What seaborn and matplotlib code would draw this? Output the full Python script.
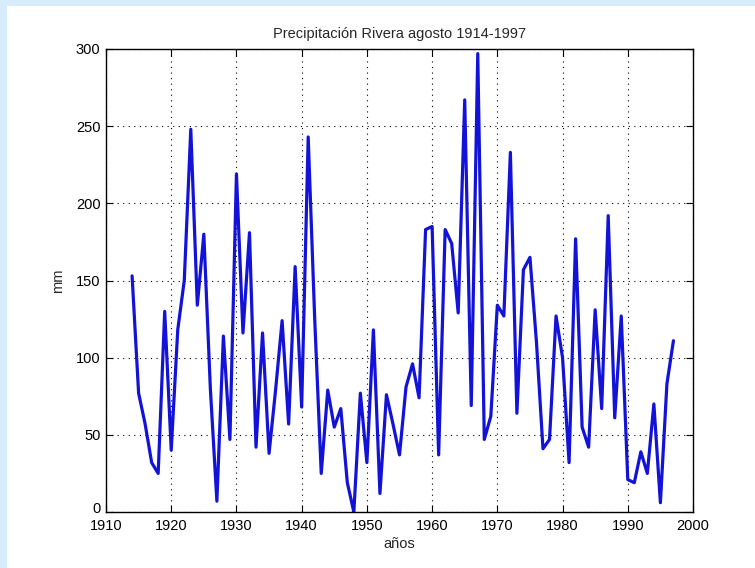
import numpy as np
import pandas as pd
import matplotlib
matplotlib.use("Agg")
import matplotlib.pyplot as plt
import matplotlib.transforms as mtransforms
import seaborn as sns
from matplotlib.patches import Rectangle

years = list(range(1914, 1998))
precip = [153, 77, 57, 32, 25, 130, 40, 118, 150, 248,
          134, 180, 80, 7, 114, 47, 219, 116, 181, 42,
          116, 38, 79, 124, 57, 159, 68, 243, 125, 25,
          79, 55, 67, 19, 0, 77, 32, 118, 12, 76,
          57, 37, 81, 96, 74, 183, 185, 37, 183, 174,
          129, 267, 69, 297, 47, 62, 134, 127, 233, 64,
          157, 165, 110, 41, 47, 127, 100, 32, 177, 55,
          42, 131, 67, 192, 61, 127, 21, 19, 39, 25,
          70, 6, 83, 111]
xticks = list(range(1910, 2001, 10))
yticks = list(range(0, 301, 50))

df = pd.DataFrame({"year": years, "mm": precip})

sns.set_theme(style="white")
plt.rcParams['font.family'] = ['Liberation Sans', 'DejaVu Sans']

fig = plt.figure(figsize=(7.55, 5.68), dpi=100)
fig.patch.set_facecolor("white")
# light blue frame bands
fig.patches.append(Rectangle((0, 1 - 6/568), 1, 6/568, transform=fig.transFigure,
                             facecolor="#d6ecfb", edgecolor="none", zorder=0))
fig.patches.append(Rectangle((0, 0), 7/755, 1, transform=fig.transFigure,
                             facecolor="#d6ecfb", edgecolor="none", zorder=0))

ax = fig.add_axes([106/755, 1 - 512/568, 587/755, 463/568])
sns.lineplot(data=df, x="year", y="mm", ax=ax, color="#1212d8", linewidth=2.3)

ax.set_xlim(1910, 2000)
ax.set_ylim(0, 300)
ax.set_xticks(xticks)
ax.set_yticks(yticks)
ax.set_xticklabels([str(t) for t in xticks], fontsize=10.5)
ax.set_yticklabels([str(t) for t in yticks], fontsize=10.5)
ax.tick_params(direction="in", length=5, width=0.8, top=True, right=True,
               bottom=True, left=True, colors="black")
ax.tick_params(axis="x", pad=5)
ax.tick_params(axis="y", pad=4)
ax.grid(True, color="black", linestyle=(0, (1, 4)), linewidth=0.8)
for s in ax.spines.values():
    s.set_color("black")
    s.set_linewidth(1.0)
ax.set_xlabel("años", fontsize=10.5, labelpad=3)
ax.set_ylabel("mm", fontsize=10.5, labelpad=8)
ax.set_title("Precipitación Rivera agosto 1914-1997", fontsize=10.5, pad=8)

# nudge the "0" y label up slightly so it clears the "1910" label
fig.canvas.draw()
zero_lab = ax.get_yticklabels()[0]
zero_lab.set_verticalalignment("bottom")
zero_lab.set_transform(zero_lab.get_transform() +
                       mtransforms.ScaledTranslation(0, -3/72, fig.dpi_scale_trans))

fig.savefig("out.png", dpi=100)
